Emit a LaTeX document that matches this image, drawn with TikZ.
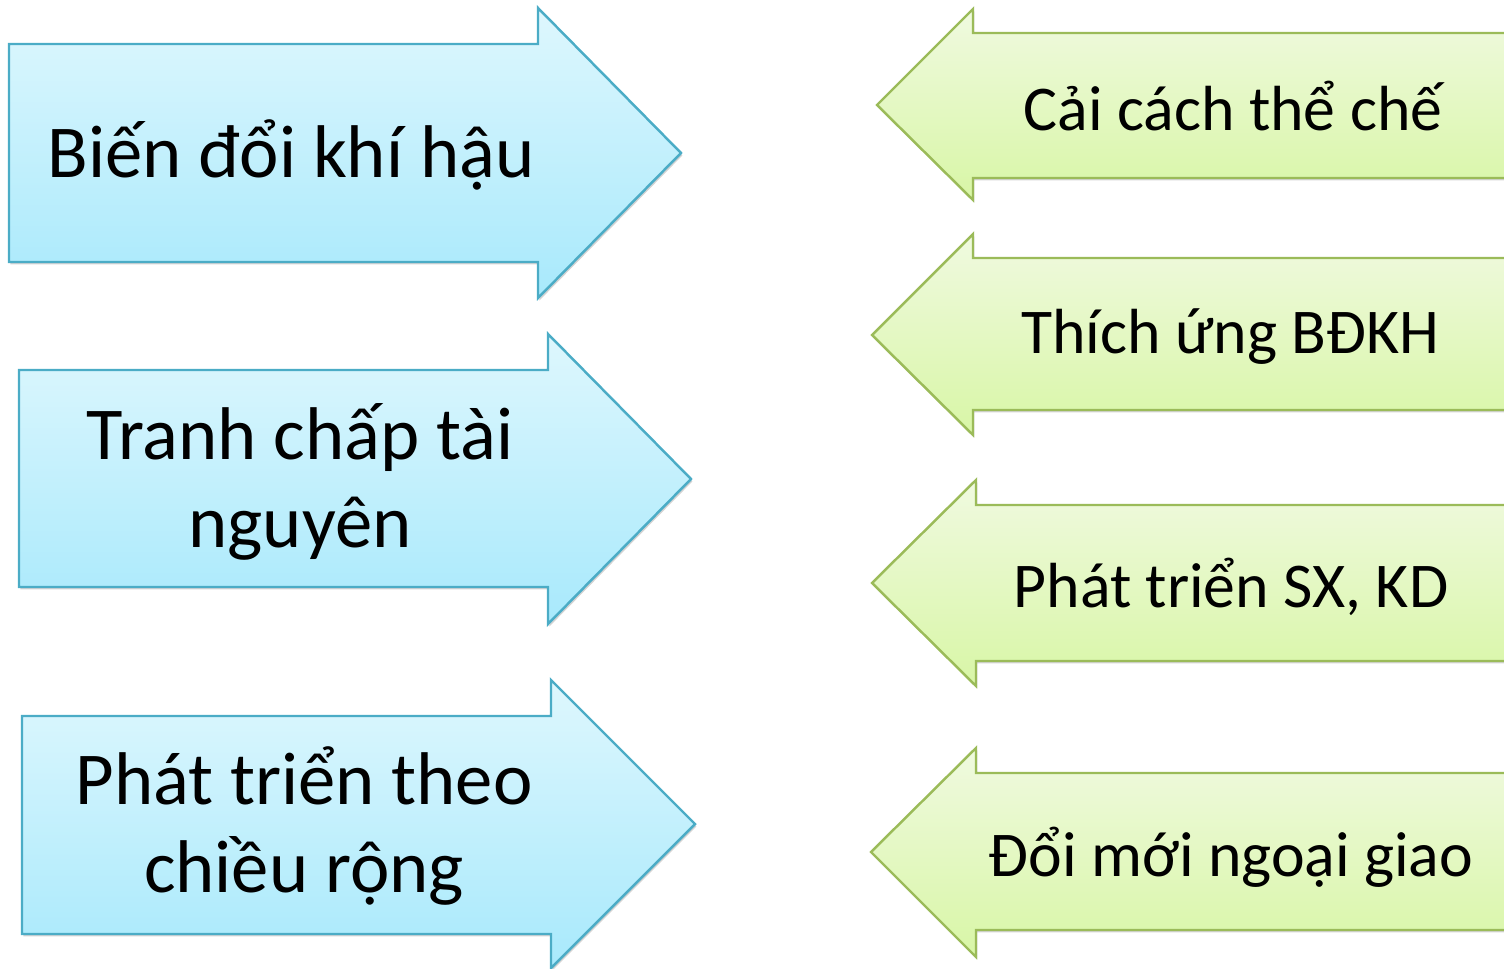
\documentclass[tikz,border=0pt]{standalone}
\usepackage{fontspec}
\setmainfont{Carlito}
\usetikzlibrary{shadows}
\definecolor{causeTop}{RGB}{222, 247, 253}
\definecolor{causeBottom}{RGB}{168, 233, 252}
\definecolor{causeLine}{RGB}{75, 172, 198}
\definecolor{answerTop}{RGB}{240, 250, 224}
\definecolor{answerBottom}{RGB}{216, 246, 166}
\definecolor{answerLine}{RGB}{155, 187, 89}

\begin{document}
\begin{tikzpicture}[
  x=0.02cm, y=-0.02cm,
  cause/.style={
    draw=causeLine,
    line width=1.4pt,
    top color=causeTop,
    bottom color=causeBottom,
    drop shadow={opacity=0.35, shadow xshift=0.8pt, shadow yshift=-1.4pt}
  },
  answer/.style={
    draw=answerLine,
    line width=1.4pt,
    top color=answerTop,
    bottom color=answerBottom,
    drop shadow={opacity=0.35, shadow xshift=0.8pt, shadow yshift=-1.4pt}
  },
  causetext/.style={align=center, font=\fontsize{42.5}{50}\selectfont},
  answertext/.style={align=center, font=\fontsize{36.3}{44}\selectfont}
]
  \useasboundingbox (0,0) rectangle (1504,969);
  \clip (0,0) rectangle (1504,969);

  % left column, pointing right
  \path[cause] (9,44) -- (538,44) -- (538,8) -- (681,153) -- (538,298) -- (538,262) -- (9,262) -- cycle;
  \path[cause] (19,370) -- (548,370) -- (548,334) -- (691,479) -- (548,624) -- (548,587) -- (19,587) -- cycle;
  \path[cause] (22,716) -- (551,716) -- (551,680) -- (695,824) -- (551,968) -- (551,934) -- (22,934) -- cycle;

  % right column, pointing left
  \path[answer] (1530,33) -- (973,33) -- (973,9) -- (877,105) -- (973,200) -- (973,178) -- (1530,178) -- cycle;
  \path[answer] (1530,258) -- (973,258) -- (973,234) -- (872,335) -- (973,435) -- (973,410) -- (1530,410) -- cycle;
  \path[answer] (1530,505) -- (976,505) -- (976,480) -- (872,583) -- (976,686) -- (976,661) -- (1530,661) -- cycle;
  \path[answer] (1530,773) -- (976,773) -- (976,748) -- (871,852) -- (976,957) -- (976,930) -- (1530,930) -- cycle;

  \node[causetext] (climate) at (291,155) {Biến đổi khí hậu};
  \node[causetext] (resource) at (300,482) {Tranh chấp tài\\nguyên};
  \node[causetext] (growth) at (304,826) {Phát triển theo\\chiều rộng};

  \node[answertext] (reform) at (1233,106) {Cải cách thể chế};
  \node[answertext] (adapt) at (1230,337) {Thích ứng BĐKH};
  \node[answertext] (production) at (1231,587) {Phát triển SX, KD};
  \node[answertext] (diplomacy) at (1231,857) {Đổi mới ngoại giao};
\end{tikzpicture}
\end{document}
